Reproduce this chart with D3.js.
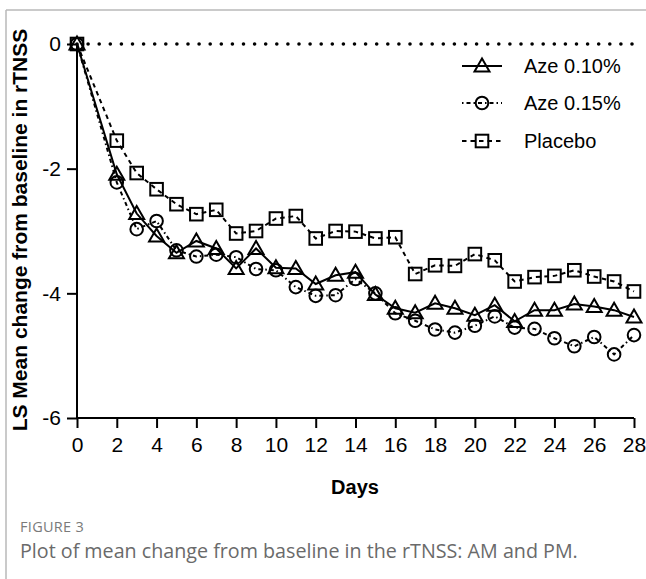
<!DOCTYPE html>
<html>
<head>
<meta charset="utf-8">
<script src="https://cdn.jsdelivr.net/npm/d3@7"></script>
<style>
  body { margin: 0; background: #fff; }
  svg { display: block; }
</style>
</head>
<body>
<div id="chart"></div>
<script>
// days measured (no day 1 visit)
var days = [0,2,3,4,5,6,7,8,9,10,11,12,13,14,15,16,17,18,19,20,21,22,23,24,25,26,27,28];

var aze010 = [0,-2.09,-2.72,-3.08,-3.35,-3.16,-3.28,-3.6,-3.28,-3.59,-3.6,-3.85,-3.71,-3.66,
  -4.02,-4.24,-4.31,-4.16,-4.24,-4.35,-4.19,-4.45,-4.27,-4.27,-4.17,-4.21,-4.27,-4.38];
var aze015 = [0,-2.22,-2.97,-2.84,-3.31,-3.41,-3.38,-3.42,-3.61,-3.63,-3.9,-4.04,-4.03,-3.77,
  -4.0,-4.32,-4.44,-4.58,-4.63,-4.52,-4.37,-4.55,-4.57,-4.72,-4.85,-4.7,-4.98,-4.67];
var placebo = [0,-1.55,-2.07,-2.33,-2.57,-2.73,-2.66,-3.04,-3.0,-2.8,-2.76,-3.12,-3.0,-3.01,
  -3.12,-3.1,-3.69,-3.55,-3.56,-3.37,-3.47,-3.81,-3.74,-3.72,-3.63,-3.73,-3.81,-3.97];

var xTicks = d3.range(0, 29, 2);
var yTicks = [0, -2, -4, -6];

var seriesList = [
  {name: "Aze 0.10%", values: aze010, marker: "triangle", dash: null},
  {name: "Aze 0.15%", values: aze015, marker: "circle", dash: "1.5,3,4,3"},
  {name: "Placebo", values: placebo, marker: "square", dash: "4.5,4"}
];

var W = 646, H = 579;
var svg = d3.select("#chart").append("svg").attr("width", W).attr("height", H);

// gray frame, top and left only
svg.append("line").attr("x1", 6).attr("x2", W).attr("y1", 10).attr("y2", 10)
  .style("stroke", "#b8b8b8").style("stroke-width", 1.5);
svg.append("line").attr("x1", 6).attr("x2", 6).attr("y1", 10).attr("y2", H)
  .style("stroke", "#b8b8b8").style("stroke-width", 1.5);

var x = d3.scaleLinear().domain([0, 28]).range([77, 634]);
var y = d3.scaleLinear().domain([-6, 0]).range([418, 44]);

var font = "'Liberation Sans', Arial, sans-serif";

// zero reference line (dotted)
svg.append("line")
  .attr("x1", x(0)).attr("x2", x(28)).attr("y1", y(0)).attr("y2", y(0))
  .style("stroke", "#000").style("stroke-width", 3.6)
  .style("stroke-linecap", "round").style("stroke-dasharray", "0,11.1");

// axes
var xAxis = svg.append("g").attr("transform", "translate(0," + y(-6) + ")")
  .call(d3.axisBottom(x).tickValues(xTicks).tickSize(10).tickPadding(9).tickSizeOuter(0));
var yAxis = svg.append("g").attr("transform", "translate(" + x(0) + ",0)")
  .call(d3.axisLeft(y).tickValues(yTicks).tickSize(10).tickPadding(6).tickSizeOuter(0)
    .tickFormat(function(d) { return d; }));

[xAxis, yAxis].forEach(function(a) {
  a.select(".domain").style("stroke", "#000").style("stroke-width", 2);
  a.selectAll(".tick line").style("stroke", "#000").style("stroke-width", 2);
  a.selectAll(".tick text").style("font-family", font).style("font-size", "21px").style("fill", "#000");
});
xAxis.select(".domain").attr("d", "M" + (x(0) - 1) + ",0H" + x(28));
yAxis.select(".domain").attr("d", "M0," + y(0) + "V" + (y(-6) + 1));

// axis titles
svg.append("text").attr("x", 355).attr("y", 494)
  .attr("text-anchor", "middle")
  .style("font-family", font).style("font-size", "20px").style("font-weight", "bold")
  .text("Days");
svg.append("text")
  .attr("transform", "translate(27,230) rotate(-90)")
  .attr("text-anchor", "middle")
  .style("font-family", font).style("font-size", "21px").style("font-weight", "bold")
  .text("LS Mean change from baseline in rTNSS");

function drawMarker(g, type, cx, cy) {
  if (type == "triangle") {
    g.append("path")
      .attr("d", "M" + cx + "," + (cy - 7.5) + "L" + (cx + 7.5) + "," + (cy + 5.5) + "L" + (cx - 7.5) + "," + (cy + 5.5) + "Z")
      .style("fill", "none").style("stroke", "#000").style("stroke-width", 2);
  } else if (type == "circle") {
    g.append("circle").attr("cx", cx).attr("cy", cy).attr("r", 6.3)
      .style("fill", "none").style("stroke", "#000").style("stroke-width", 2);
  } else {
    g.append("rect").attr("x", cx - 6.3).attr("y", cy - 6.3).attr("width", 12.6).attr("height", 12.6)
      .style("fill", "none").style("stroke", "#000").style("stroke-width", 2);
  }
}

var line = d3.line()
  .x(function(d) { return x(d.day); })
  .y(function(d) { return y(d.v); });

seriesList.forEach(function(s) {
  var pts = days.map(function(d, i) { return {day: d, v: s.values[i]}; });
  var g = svg.append("g");
  g.append("path").datum(pts).attr("d", line)
    .style("fill", "none").style("stroke", "#000").style("stroke-width", 2)
    .style("stroke-dasharray", s.dash);
  pts.forEach(function(p) { drawMarker(g, s.marker, x(p.day), y(p.v)); });
});

// legend
var legY = [66, 103, 141];
seriesList.forEach(function(s, i) {
  var g = svg.append("g");
  g.append("line").attr("x1", 462).attr("x2", 502).attr("y1", legY[i]).attr("y2", legY[i])
    .style("stroke", "#000").style("stroke-width", 2).style("stroke-dasharray", s.dash);
  drawMarker(g, s.marker, 482, legY[i]);
  g.append("text").attr("x", 524).attr("y", legY[i] + 7)
    .style("font-family", font).style("font-size", "20px")
    .text(s.name);
});

// caption
svg.append("text").attr("x", 20).attr("y", 532)
  .style("font-family", "'Open Sans', sans-serif").style("font-size", "14.5px")
  .style("fill", "#7a7a7a").style("letter-spacing", "0.3px")
  .text("FIGURE 3");
svg.append("text").attr("x", 20).attr("y", 558)
  .style("font-family", "'Open Sans', sans-serif").style("font-size", "19.7px")
  .style("fill", "#6a6a6a")
  .text("Plot of mean change from baseline in the rTNSS: AM and PM.");
</script>
</body>
</html>
